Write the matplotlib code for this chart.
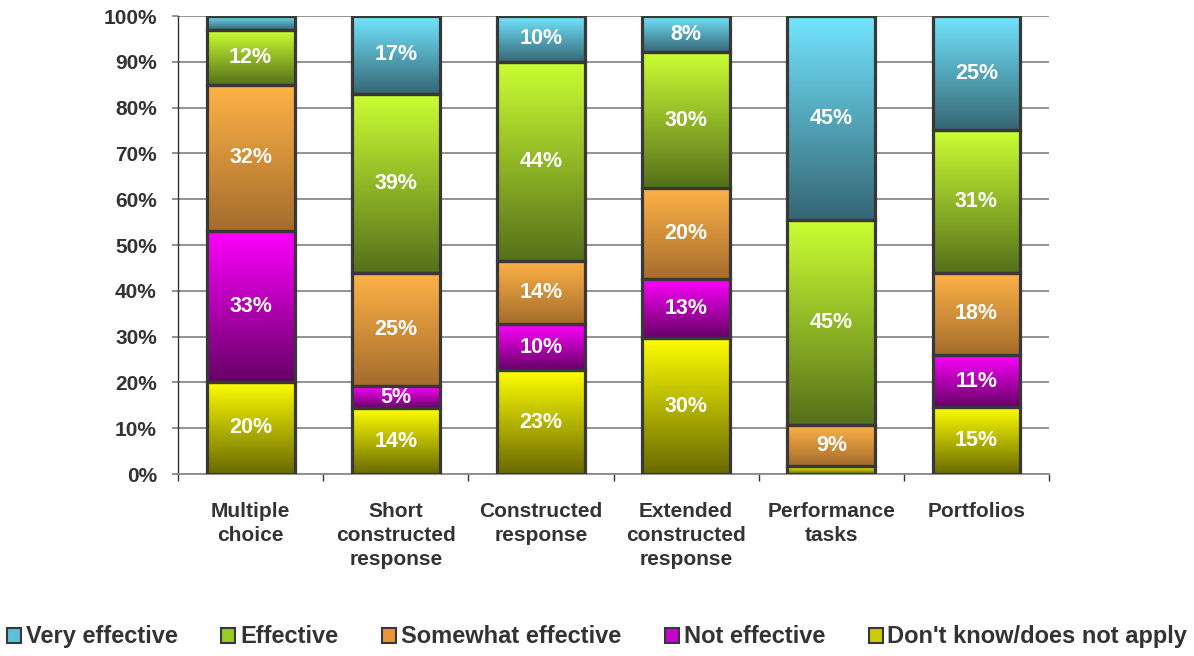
import numpy as np
import matplotlib.pyplot as plt
from matplotlib.colors import LinearSegmentedColormap
from matplotlib.patches import Patch

plt.rcParams['font.family'] = ['Liberation Sans', 'DejaVu Sans']
plt.rcParams['font.weight'] = 'bold'

# categories and data (percent, stacked bottom -> top)
categories = ['Multiple\nchoice', 'Short\nconstructed\nresponse', 'Constructed\nresponse',
              'Extended\nconstructed\nresponse', 'Performance\ntasks', 'Portfolios']
dont_know = [20.1, 14.4, 22.7, 29.7, 1.7, 14.6]
not_effective = [33.0, 4.8, 10.0, 12.9, 0.0, 11.4]
somewhat = [31.8, 24.7, 13.8, 19.8, 9.0, 17.9]
effective = [12.0, 39.1, 43.5, 29.7, 44.7, 31.2]
very = [3.1, 17.0, 10.0, 7.9, 44.6, 24.9]

series_names = ['Very effective', 'Effective', 'Somewhat effective', 'Not effective',
                "Don't know/does not apply"]
series_vals = [very, effective, somewhat, not_effective, dont_know]
# (top colour, bottom colour) for the vertical gradient
grad_colors = [('#72E6FF', '#356674'),
               ('#CCFF33', '#55701A'),
               ('#FFB347', '#A46C2C'),
               ('#FF00FF', '#660066'),
               ('#FFFF00', '#696900')]

fig = plt.figure(figsize=(11.94, 6.56), dpi=100)
ax = fig.add_axes([0.1491, 0.2774, 0.7295, 0.6982])

x = np.arange(len(categories))
width = 0.605
bottom = np.zeros(len(categories))
# stack from bottom: don't know first
for vals, (c_top, c_bot) in list(zip(series_vals, grad_colors))[::-1]:
    vals = np.array(vals)
    cmap = LinearSegmentedColormap.from_list('g', [c_bot, c_top])
    grad = np.linspace(0, 1, 256).reshape(-1, 1)
    for i in range(len(x)):
        if vals[i] <= 0:
            continue
        bar = ax.bar(x[i], vals[i], width, bottom=bottom[i], color='none',
                     edgecolor='#383838', linewidth=2.3, zorder=4)[0]
        x0, y0 = bar.get_x(), bar.get_y()
        im = ax.imshow(grad, cmap=cmap, origin='lower', aspect='auto',
                       extent=(x0, x0 + bar.get_width(), y0, y0 + bar.get_height()),
                       zorder=3, interpolation='bilinear')
        im.set_clip_path(bar)
        if vals[i] >= 4:
            ax.text(x[i], bottom[i] + vals[i] / 2, f'{vals[i]:.0f}%', ha='center',
                    va='center', color='white', fontsize=15.5, fontweight='bold', zorder=5)
    bottom += vals

ax.set_xlim(-0.5, len(categories) - 0.5)
ax.set_ylim(0, 100)
ax.set_yticks(np.arange(0, 101, 10))
ax.set_yticklabels([f'{v}%' for v in range(0, 101, 10)])
ax.yaxis.grid(True, color='#8a8a8a', linewidth=1.3)
ax.set_axisbelow(True)
ax.tick_params(axis='y', length=4.3, color='#8a8a8a', width=1.3, pad=11,
               labelsize=15, labelcolor='#333333')

ax.set_xticks(x)
ax.set_xticklabels(categories, fontsize=15, color='#333333', linespacing=1.35)
ax.set_xticks(np.arange(-0.5, len(categories)), minor=True)
ax.tick_params(axis='x', which='major', length=0, pad=20)
ax.tick_params(axis='x', which='minor', length=5, color='#333333', width=1)

for s in ['top', 'right']:
    ax.spines[s].set_visible(False)
ax.spines['left'].set_color('#333333')
ax.spines['left'].set_linewidth(1)
ax.spines['bottom'].set_color('#8a8a8a')
ax.spines['bottom'].set_linewidth(1.3)

handles = [Patch(facecolor=mix, edgecolor='#383838', linewidth=1.5) for mix in
           ['#5FBFD6', '#9ACC22', '#E8963A', '#CC00CC', '#CCCC00']]
fig.legend(handles, series_names, loc='center', bbox_to_anchor=(0.5, 0.029), ncol=5,
           frameon=False, handlelength=0.6, handleheight=0.6, handletextpad=0.2,
           columnspacing=1.85, prop={'size': 17, 'weight': 'bold'}, labelcolor='#333333')

fig.savefig('out.png', dpi=100)
